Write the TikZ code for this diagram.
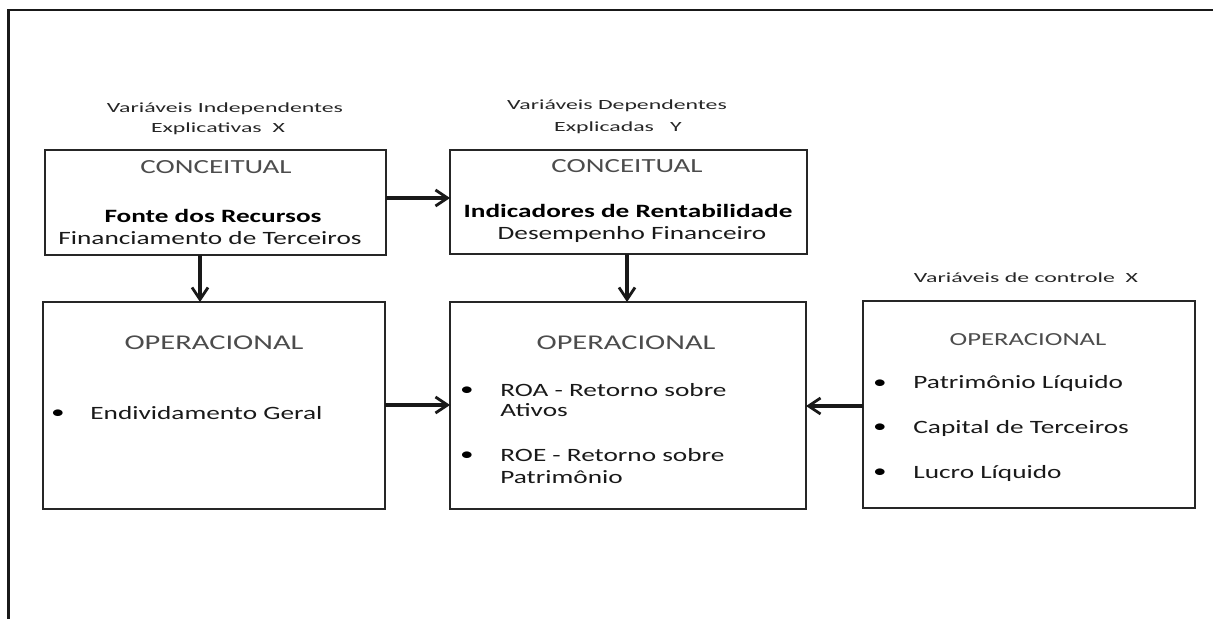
\documentclass[tikz,border=0pt]{standalone}
\usepackage{fontspec}
\setmainfont{Carlito}[FakeStretch=1.45]
\newfontfamily\labfont{Carlito}[FakeStretch=1.7]
\usetikzlibrary{arrows.meta,calc}
\begin{document}
\begin{tikzpicture}[x=0.5pt,y=-0.5pt,
 box/.style={draw=black!85,line width=1pt,inner sep=0pt,outer sep=0pt,rectangle},
 arr/.style={line width=1.6pt,draw=black!90,-{Straight Barb[length=6pt,width=8pt,line width=1.4pt]}},
 lab/.style={font=\labfont\fontsize{7}{8.5}\selectfont,text=black!85,inner sep=0pt},
 ttl/.style={font=\fontsize{10}{12}\selectfont,text=black!70,inner sep=0pt},
 ttlb/.style={font=\fontsize{10.5}{12}\selectfont,text=black!70,inner sep=0pt},
 ttls/.style={font=\fontsize{9.2}{11}\selectfont,text=black!70,inner sep=0pt},
 txt/.style={font=\fontsize{9.4}{11}\selectfont,text=black!90,inner sep=0pt},
 bld/.style={font=\bfseries\fontsize{9.4}{11}\selectfont,text=black,inner sep=0pt},
 bul/.style={font=\fontsize{9.4}{11}\selectfont,text=black,inner sep=0pt},
]
\useasboundingbox (0,0) rectangle (1213,619);
\clip (0,0) rectangle (1213,619);
% outer frame (open towards right and bottom)
\coordinate (fb) at (8.5,640);
\coordinate (fc) at (8.5,10);
\coordinate (fr) at (1240,10);
\draw[line width=1.2pt,black!90] (fb) -- (fc) -- (fr);

% boxes
\node[box,minimum width=170.5pt,minimum height=52.5pt] (A) at (215.5,202.5) {};
\node[box,minimum width=178.5pt,minimum height=52pt] (B) at (628.5,202) {};
\node[box,minimum width=171pt,minimum height=103.5pt] (C) at (214,405.5) {};
\node[box,minimum width=178pt,minimum height=103.5pt] (D) at (628,405.5) {};
\node[box,minimum width=166pt,minimum height=103.5pt] (E) at (1029,404.5) {};

% labels above boxes
\node[lab] (la1) at (225,109) {Variáveis Independentes};
\node[lab] (la2) at (218,129) {Explicativas\ \ X};
\node[lab] (lb1) at (617,106) {Variáveis Dependentes};
\node[lab] (lb2) at (618,128) {Explicadas\ \ \ Y};
\node[lab] (le) at (1026,278) {Variáveis de controle\ \ X};

% box A
\node[ttl] (at) at (216,167) {CONCEITUAL};
\node[bld,anchor=base] (a1) at (213,223) {Fonte dos Recursos};
\node[txt,anchor=base] (a2) at (210,245) {Financiamento de Terceiros};

% box B
\node[ttl] (bt) at (627,166) {CONCEITUAL};
\node[bld,anchor=base] (b1) at (628,218) {Indicadores de Rentabilidade};
\node[txt,anchor=base] (b2) at (632,240) {Desempenho Financeiro};

% box C
\node[ttlb] (ct) at (214,343) {OPERACIONAL};
\node[bul] (cb) at (58,414) {•};
\node[txt,anchor=base west] (c1) at (90,419) {Endividamento Geral};

% box D
\node[ttlb] (dt) at (626,343) {OPERACIONAL};
\node[bul] (db1) at (467,391) {•};
\node[txt,anchor=base west] (d1) at (500,396) {ROA - Retorno sobre};
\node[txt,anchor=base west] (d2) at (500,416) {Ativos};
\node[bul] (db2) at (467,456) {•};
\node[txt,anchor=base west] (d3) at (500,461) {ROE - Retorno sobre};
\node[txt,anchor=base west] (d4) at (500,483) {Patrimônio};

% box E
\node[ttls] (et) at (1028,340) {OPERACIONAL};
\node[bul] (eb1) at (880,384) {•};
\node[txt,anchor=base west] (e1) at (913,389) {Patrimônio Líquido};
\node[bul] (eb2) at (880,428) {•};
\node[txt,anchor=base west] (e2) at (913,433) {Capital de Terceiros};
\node[bul] (eb3) at (880,473) {•};
\node[txt,anchor=base west] (e3) at (913,478) {Lucro Líquido};

% connectors
\coordinate (yab) at (0,198);
\coordinate (xac) at (200,0);
\coordinate (xbd) at (627,0);
\coordinate (ycd) at (0,405);
\coordinate (yed) at (0,406);
\draw[arr] (A.east |- yab) -- (B.west |- yab);
\draw[arr] (A.south -| xac) -- (C.north -| xac);
\draw[arr] (B.south -| xbd) -- (D.north -| xbd);
\draw[arr] (C.east |- ycd) -- (D.west |- ycd);
\draw[arr] (E.west |- yed) -- (D.east |- yed);
\end{tikzpicture}
\end{document}
